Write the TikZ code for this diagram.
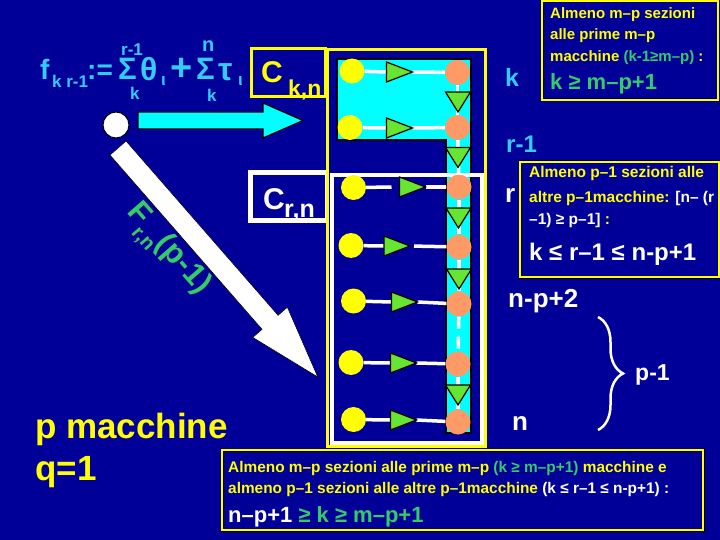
\documentclass[tikz,border=0pt]{standalone}
\usepackage{fontspec}
\setmainfont{Liberation Sans}
\usetikzlibrary{decorations.pathreplacing}
\definecolor{bg}{RGB}{0,0,153}
\definecolor{cyantext}{RGB}{51,204,255}
\definecolor{cyanfill}{RGB}{0,255,255}
\definecolor{yel}{RGB}{255,255,0}
\definecolor{gtext}{RGB}{51,204,102}
\definecolor{trig}{RGB}{102,230,51}
\definecolor{salmon}{RGB}{255,153,102}
\newcommand\fsz[1]{\fontsize{#1}{#1}\selectfont\bfseries}
\newcommand\rtri[3]{\filldraw[tri] (#2-13,#3-10) -- (#2+13,#3) -- (#2-13,#3+10) -- cycle;}
\newcommand\rtricoord[3]{\coordinate (#1w) at (#2-13,#3); \coordinate (#1e) at (#2+13,#3);}
\newcommand\dtri[2]{\filldraw[tri] (#1-12.5,#2-10) -- (#1+12.5,#2-10) -- (#1,#2+10) -- cycle;}
\begin{document}
\begin{tikzpicture}[x=1pt,y=-1pt,
  lbl/.style={inner sep=0, anchor=base west},
  ycirc/.style={circle, fill=yel, minimum size=25pt, inner sep=0},
  ocirc/.style={circle, fill=salmon, minimum size=25pt, inner sep=0},
  tri/.style={fill=trig, draw=black, line width=1.2pt, line join=miter},
  hl/.style={white, line width=3.5pt},
  vl/.style={white, line width=3.5pt},
  infobox/.style={draw=black, double=yel, double distance=1.6pt, line width=0.7pt}]
\fill[bg] (0,0) rectangle (720,540);
\useasboundingbox (0,0) rectangle (720,540);

% formula
\node[lbl, text=cyantext, font=\fsz{28}] (f) at (40,80) {f};
\node[lbl, text=cyantext, font=\fsz{17}] (fsub) at (52,88) {k r-1};
\node[lbl, text=cyantext, font=\fsz{28}] (def) at (87,80) {:=};
\node[lbl, text=cyantext, font=\fsz{31}] (s1) at (118,80) {Σ};
\node[lbl, text=cyantext, font=\fsz{17}] (s1up) at (121,56) {r-1};
\node[lbl, text=cyantext, font=\fsz{17}] (s1lo) at (130,100) {k};
\node[lbl, text=cyantext, font=\fsz{32}] (th) at (140,81) {θ};
\node[lbl, text=cyantext, font=\fsz{17}] (i1) at (161,86) {ι};
\node[lbl, text=cyantext, font=\fsz{38}] (plus) at (170,81) {+};
\node[lbl, text=cyantext, font=\fsz{31}] (s2) at (196,80) {Σ};
\node[lbl, text=cyantext, font=\fsz{20}] (s2up) at (202,52) {n};
\node[lbl, text=cyantext, font=\fsz{17}] (s2lo) at (207,102) {k};
\node[lbl, text=cyantext, font=\fsz{32}] (tau) at (218,81) {τ};
\node[lbl, text=cyantext, font=\fsz{17}] (i2) at (238,86) {ι};

% white circle and cyan arrow
\node[circle, fill=white, draw=black, line width=1pt, minimum size=26pt, inner sep=0] (wc) at (116,125) {};
\filldraw[fill=cyanfill, draw=black, line width=1.2pt]
  (138,112) -- (263,112) -- (263,103) -- (303,120.5) -- (263,138) -- (263,129) -- (138,129) -- cycle;

% white diagonal arrow
\begin{scope}[shift={(118,148)}, rotate=-48.9]
\filldraw[fill=white, draw=black, line width=0.6pt]
  (0,10.7) -- (231.3,10.7) -- (231.3,23) -- (304,0) -- (231.3,-23) -- (231.3,-10.7) -- (0,-10.7) -- cycle;
\end{scope}
\node[inner sep=0, rotate=-48.9, text=gtext, font=\fsz{31}] (F) at (166,251) {F\raisebox{-0.35em}{\fsz{20}r,n}(p-1)};

% cyan region
\filldraw[fill=cyanfill, draw=black, line width=1.5pt]
  (337,59) -- (471,59) -- (471,433) -- (446,433) -- (446,140) -- (337,140) -- cycle;

% frames
\draw[white, line width=3.5pt] (332,175) rectangle (482,443);
\draw[white, line width=4.5pt] (250.5,172.5) rectangle (327,220.5);
\node[lbl, text=white, font=\fsz{30}] (cr) at (263,210) {C};
\node[lbl, text=white, font=\fsz{25}] (crsub) at (284,218) {r,n};
\node[lbl, text=yel, font=\fsz{30}] (ck) at (261,83) {C};
\node[lbl, text=yel, font=\fsz{23}] (cksub) at (288,97) {k,n};
\draw[yel, line width=3pt] (327,50) rectangle (485.5,446.5);
\draw[yel, line width=3pt] (251,49) rectangle (325,97);

% circles
\node[ycirc] (y1) at (352,71) {};
\node[ycirc] (y2) at (350,127.5) {};
\node[ycirc] (y3) at (353.5,187.5) {};
\node[ycirc] (y4) at (351,245.5) {};
\node[ycirc] (y5) at (353.5,301) {};
\node[ycirc] (y6) at (351,362.5) {};
\node[ycirc] (y7) at (353.5,419.5) {};
\node[ocirc] (o1) at (457.5,72.5) {};
\node[ocirc] (o2) at (457.5,127.5) {};
\node[ocirc] (o3) at (459,187) {};
\node[ocirc] (o4) at (459,247) {};
\node[ocirc] (o5) at (459,304) {};
\node[ocirc] (o6) at (458,364) {};
\node[ocirc] (o7) at (458,422) {};

% vertical chain
\draw[vl] (o1) -- (o2);
\draw[vl] (o2) -- (o3);
\draw[vl] (o3) -- (o4);
\draw[vl] (o4) -- (o5);
\draw[vl, dash pattern=on 12pt off 8pt] (o5) -- (o6);
\draw[vl] (o6) -- (o7);
\dtri{458}{102}
\dtri{458}{157.5}
\dtri{458.5}{218}
\dtri{459}{279}
\dtri{458}{395}

% horizontal rows
\rtricoord{t1}{399.5}{72}
\rtricoord{t2}{399.5}{128}
\rtricoord{t3}{412.5}{187}
\rtricoord{t4}{397}{246}
\rtricoord{t5}{404.5}{302}
\rtricoord{t6}{403.5}{363}
\rtricoord{t7}{403.5}{420}
\draw[hl] (y1) -- (t1w); \draw[hl] (t1e) -- (o1);
\draw[hl] (y2) -- (t2w); \draw[hl] (t2e) -- (o2);
\draw[hl, shorten >=8pt] (y3) -- (t3w); \draw[hl] (t3e) -- (o3);
\draw[hl] (y4) -- (t4w); \draw[hl, shorten <=4pt] (t4e) -- (o4);
\draw[hl] (y5) -- (t5w); \draw[hl] (t5e) -- (o5);
\draw[hl] (y6) -- (t6w); \draw[hl] (t6e) -- (o6);
\draw[hl] (y7) -- (t7w); \draw[hl] (t7e) -- (o7);
\rtri{t1}{399.5}{72}
\rtri{t2}{399.5}{128}
\rtri{t3}{412.5}{187}
\rtri{t4}{397}{246}
\rtri{t5}{404.5}{302}
\rtri{t6}{403.5}{363}
\rtri{t7}{403.5}{420}

% right labels
\node[lbl, text=cyantext, font=\fsz{25}] (lk) at (505,87) {k};
\node[lbl, text=cyantext, font=\fsz{24}] (lr1) at (506,153) {r-1};
\node[lbl, text=white, font=\fsz{26}] (lr) at (505,203) {r};
\node[lbl, text=white, font=\fsz{26}] (lnp2) at (508,307) {n-p+2};
\node[lbl, text=white, font=\fsz{26}] (ln) at (512,430) {n};
\node[lbl, text=white, font=\fsz{23}] (lp1) at (635,380) {p-1};
\draw[white, line width=2.5pt, decorate, decoration={brace, amplitude=25pt}] (598,317) -- (598,430);

% info box 1
\draw[infobox] (542,1) rectangle (718,100);
\node[lbl, text=yel, font=\fsz{15}] (b1a) at (550,19) {Almeno m–p sezioni};
\node[lbl, text=yel, font=\fsz{15}] (b1b) at (550,40) {alle prime m–p};
\node[lbl, text=yel, font=\fsz{15}] (b1c) at (550,62) {macchine {\color{gtext}(k-1≥m–p)} :};
\node[lbl, text=gtext, font=\fsz{22}] (b1d) at (550,90) {k ≥ m–p+1};

% info box 2
\draw[infobox] (520,162) rectangle (719,277);
\node[lbl, text=yel, font=\fsz{15.5}] (b2a) at (529,178) {Almeno p–1 sezioni alle};
\node[lbl, text=yel, font=\fsz{15.5}] (b2b) at (529,203) {altre p–1macchine: {\color{white}[n– (r}};
\node[lbl, text=yel, font=\fsz{15.5}] (b2c) at (529,225) {{\color{white}–1) ≥ p–1]} :};
\node[lbl, text=white, font=\fsz{24}] (b2d) at (529,260) {k ≤ r–1 ≤ n-p+1};

% info box 3
\draw[infobox] (222,450) rectangle (703,530);
\node[lbl, text=yel, font=\fsz{15.4}] (b3a) at (228,472) {Almeno m–p sezioni alle prime m–p {\color{gtext}(k ≥ m–p+1)} macchine e};
\node[lbl, text=yel, font=\fsz{15.4}] (b3b) at (228,493) {almeno p–1 sezioni alle altre p–1macchine {\color{white}(k ≤ r–1 ≤ n-p+1) :}};
\node[lbl, text=white, font=\fsz{22}] (b3c) at (228,522) {n–p+1 {\color{gtext}≥ k ≥ m–p+1}};

% left bottom
\node[lbl, text=yel, font=\fsz{35}] (pm) at (35,438) {p macchine};
\node[lbl, text=yel, font=\fsz{35}] (q1) at (35,480) {q=1};
\end{tikzpicture}
\end{document}
